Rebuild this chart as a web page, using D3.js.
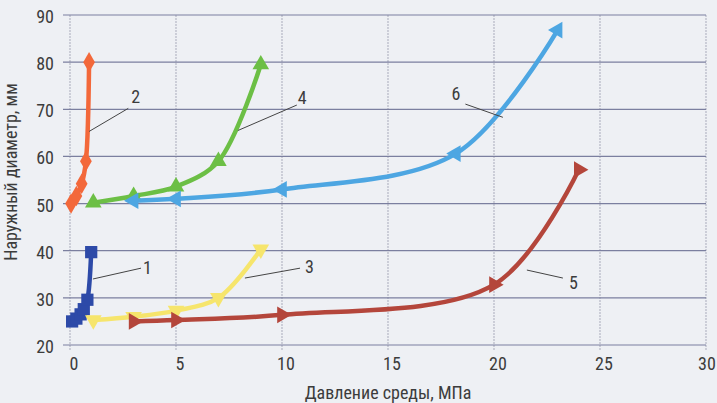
<!DOCTYPE html>
<html>
<head>
<meta charset="utf-8">
<script src="https://cdn.jsdelivr.net/npm/d3@7"></script>
<style>
  body { margin: 0; background: #eef0f4; }
  svg { display: block; }
  text { font-family: "Liberation Sans Narrow", "Arial Narrow", "Roboto Condensed", sans-serif; fill: #3c3c3c; }
</style>
</head>
<body>
<div id="chart"></div>
<script>
// ---------------- data ----------------
const xTicks = [0, 5, 10, 15, 20, 25, 30];
const yTicks = [20, 30, 40, 50, 60, 70, 80, 90];

const series1 = [[0.1, 25], [0.3, 25.6], [0.5, 26.5], [0.65, 27.6], [0.82, 29.6], [1.0, 39.7]];
const series2 = [[0.05, 50], [0.3, 51.6], [0.55, 54.2], [0.75, 59], [0.9, 80]];
const series3 = [[1.1, 25.3], [3, 26], [5, 27.3], [7, 30], [9, 40.3]];
const series4 = [[1.1, 50.2], [3, 51.6], [5, 53.6], [7, 59], [9, 79.5]];
const series5 = [[3, 25], [5, 25.3], [10, 26.4], [20, 32.8], [24, 57.2]];
const series6 = [[3, 50.6], [5, 51], [10, 53], [18.2, 60.6], [23, 86.8]];

const names = ["1", "2", "3", "4", "5", "6"];
const colors = ["#2d4aa8", "#f3683a", "#f6e56c", "#6cbf45", "#b4463b", "#4da6e2"];
const symbolsRot = [["square", 0], ["diamond", 0], ["triangle", 180], ["triangle", 0], ["triangle", 90], ["triangle", -90]];
// label text position (baseline) and leader line, in data units
const labelPos = [[3.65, 35.1], [3.1, 71.3], [11.3, 35.3], [10.95, 71.1], [23.75, 31.9], [18.2, 72.0]];
const leaderFrom = [[3.35, 36.3], [2.75, 70.2], [10.85, 36.3], [10.7, 70.9], [23.25, 34.2], [18.65, 71.1]];
const leaderTo = [[1.08, 34.0], [0.9, 65.3], [8.25, 34.2], [7.92, 65.5], [21.55, 35.9], [20.42, 68.3]];

const allSeries = [series1, series2, series3, series4, series5, series6];

// ---------------- svg ----------------
const width = 717, height = 403;
const svg = d3.select("#chart").append("svg")
    .attr("width", width)
    .attr("height", height);

const x = d3.scaleLinear().domain([0, 30]).range([70, 706]);
const y = d3.scaleLinear().domain([20, 90]).range([345, 15]);

// vertical grid
svg.append("g")
    .selectAll("line")
    .data(xTicks)
    .join("line")
    .attr("x1", d => x(d)).attr("x2", d => x(d))
    .attr("y1", y(90)).attr("y2", y(20) + 5)
    .attr("stroke", "#a9abbb")
    .attr("stroke-width", 1)
    .attr("stroke-dasharray", "2,1");

// horizontal grid
svg.append("g")
    .selectAll("line")
    .data(yTicks)
    .join("line")
    .attr("x1", x(0) - 7).attr("x2", x(30))
    .attr("y1", d => y(d)).attr("y2", d => y(d))
    .attr("stroke", "#7b7f9f")
    .attr("stroke-width", 1.2);

// axis labels
svg.append("g")
    .selectAll("text")
    .data(yTicks)
    .join("text")
    .attr("x", x(0) - 16)
    .attr("y", d => y(d) + 8)
    .attr("text-anchor", "end")
    .attr("font-size", 18)
    .text(d => d);

svg.append("g")
    .selectAll("text")
    .data(xTicks)
    .join("text")
    .attr("x", d => Math.min(x(d) + 4, width - 10))
    .attr("y", 370)
    .attr("text-anchor", "middle")
    .attr("font-size", 18)
    .text(d => d);

svg.append("text")
    .attr("x", 388)
    .attr("y", 399)
    .attr("text-anchor", "middle")
    .attr("font-size", 18)
    .text("Давление среды, МПа");

svg.append("text")
    .attr("transform", "translate(17,172) rotate(-90)")
    .attr("text-anchor", "middle")
    .attr("font-size", 18)
    .text("Наружный диаметр, мм");

// ---------------- lines & markers ----------------
const line = d3.line()
    .x(d => x(d[0]))
    .y(d => y(d[1]))
    .curve(d3.curveCatmullRom.alpha(0.5));

const symType = { square: d3.symbolSquare, diamond: d3.symbolDiamond, triangle: d3.symbolTriangle };

allSeries.forEach((s, i) => {
    const g = svg.append("g");
    g.append("path")
        .datum(s)
        .attr("d", line)
        .attr("fill", "none")
        .attr("stroke", colors[i])
        .attr("stroke-width", 4.5)
        .attr("stroke-linejoin", "round");
    const sym = d3.symbol().type(symType[symbolsRot[i][0]]).size(symbolsRot[i][0] === "square" ? 150 : 120);
    g.selectAll("path.m")
        .data(s)
        .join("path")
        .attr("class", "m")
        .attr("d", sym)
        .attr("transform", d => `translate(${x(d[0])},${y(d[1])}) rotate(${symbolsRot[i][1]})`)
        .attr("fill", colors[i]);
});

// ---------------- labels ----------------
names.forEach((n, i) => {
    svg.append("line")
        .attr("x1", x(leaderFrom[i][0])).attr("y1", y(leaderFrom[i][1]))
        .attr("x2", x(leaderTo[i][0])).attr("y2", y(leaderTo[i][1]))
        .attr("stroke", "#444")
        .attr("stroke-width", 1);
    svg.append("text")
        .attr("x", x(labelPos[i][0]))
        .attr("y", y(labelPos[i][1]))
        .attr("text-anchor", "middle")
        .attr("font-size", 18)
        .text(n);
});
</script>
</body>
</html>
